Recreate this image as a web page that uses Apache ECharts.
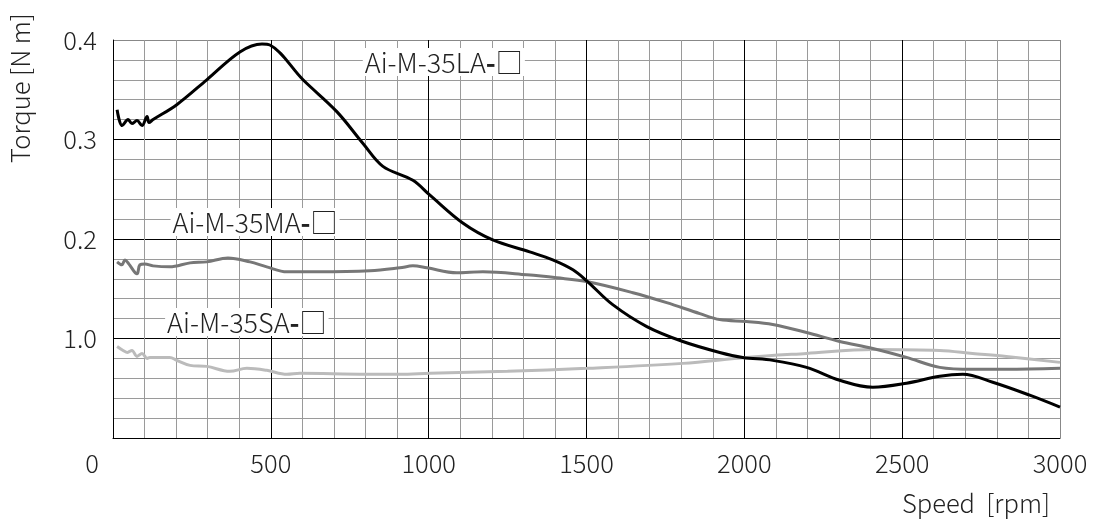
<!DOCTYPE html>
<html>
<head>
<meta charset="utf-8">
<script src="https://cdn.jsdelivr.net/npm/echarts@6/dist/echarts.min.js"></script>
<style>
  html, body { margin: 0; padding: 0; background: #fff; }
  #main { width: 1094px; height: 525px; }
</style>
</head>
<body>
<div id="main"></div>
<script>
// rpm, torque [N m]
const LA = [[13,0.330],[29,0.314],[48,0.320],[60,0.316],[76,0.319],[92,0.314],[108,0.323],[114,0.317],[127,0.320],
  [202,0.335],[297,0.360],[402,0.388],[472,0.396],[497,0.395],[602,0.360],[709,0.328],[792,0.296],[855,0.273],
  [950,0.259],[1004,0.244],[1108,0.216],[1203,0.199],[1320,0.187],[1393,0.179],[1457,0.169],[1504,0.157],
  [1583,0.134],[1691,0.112],[1805,0.097],[1922,0.086],[1995,0.081],[2090,0.078],[2197,0.071],[2302,0.058],
  [2407,0.051],[2514,0.055],[2619,0.062],[2692,0.064],[2787,0.056],[2904,0.043],[3000,0.031]]
const MA = [[13,0.177],[28,0.174],[38,0.179],[50,0.175],[76,0.165],[85,0.174],[101,0.175],[127,0.173],[180,0.172],
  [244,0.176],[297,0.177],[364,0.181],[434,0.177],[487,0.172],[551,0.167],[646,0.167],[814,0.168],[909,0.171],
  [950,0.173],[994,0.171],[1089,0.166],[1172,0.167],[1311,0.164],[1406,0.161],[1504,0.157],[1647,0.146],
  [1754,0.136],[1859,0.125],[1922,0.119],[2007,0.117],[2090,0.114],[2197,0.106],[2302,0.097],[2407,0.090],
  [2514,0.081],[2619,0.071],[2723,0.069],[2830,0.069],[3000,0.070]]
const SA = [[13,0.092],[32,0.088],[46,0.086],[60,0.088],[76,0.082],[92,0.085],[108,0.080],[117,0.081],[180,0.081],
  [202,0.078],[244,0.073],[297,0.072],[370,0.067],[424,0.070],[487,0.068],[551,0.064],[592,0.065],[800,0.064],
  [909,0.064],[1004,0.065],[1250,0.067],[1501,0.070],[1805,0.075],[2007,0.081],[2197,0.085],[2407,0.089],
  [2619,0.088],[2723,0.085],[2830,0.082],[3000,0.076]]
const SERIES_NAMES = ['Ai-M-35LA', 'Ai-M-35MA', 'Ai-M-35SA']
const NAME_POS = [[1048, 0.378], [450, 0.217], [424, 0.1166]]
const X_TICKS = ['0', '500', '1000', '1500', '2000', '2500', '3000']
const Y_TICKS = ['', '1.0', '0.2', '0.3', '0.4']

const FONT = 'Noto Sans CJK JP'
const TXT = '#222'
var chart = echarts.init(document.getElementById('main'))

function nameMark(i) {
  return {
    symbol: 'rect',
    symbolSize: 1,
    itemStyle: { color: 'transparent' },
    label: {
      show: true,
      position: 'inside',
      formatter: SERIES_NAMES[i] + '{d|-}□',
      fontFamily: FONT,
      fontWeight: 300,
      fontSize: 27,
      color: TXT,
      backgroundColor: '#fff',
      padding: [1, 2, 0, 2],
      rich: { d: { fontFamily: FONT, fontWeight: 'bold', fontSize: 27, color: TXT } }
    },
    data: [{ coord: NAME_POS[i] }]
  }
}

function line(data, color, i, z) {
  return {
    type: 'line',
    data: data,
    showSymbol: false,
    smooth: 0.35,
    lineStyle: { color: color, width: 3 },
    z: z,
    markPoint: nameMark(i)
  }
}

var option = {
  animation: false,
  backgroundColor: '#fff',
  grid: { left: 113, right: 34, top: 40, bottom: 87 },
  xAxis: {
    type: 'value',
    min: 0, max: 3000, interval: 500,
    axisLine: { lineStyle: { color: '#000', width: 1 } },
    axisTick: { show: false },
    axisLabel: {
      margin: 13,
      fontFamily: FONT, fontWeight: 300, fontSize: 25.5, color: TXT,
      formatter: function (v) {
        var t = X_TICKS[Math.round(v / 500)]
        return v === 0 ? '{z|' + t + '}' : t
      },
      rich: { z: { fontFamily: FONT, fontWeight: 300, fontSize: 25.5, color: TXT, padding: [0, 42, 0, 0] } }
    },
    splitLine: { show: true, lineStyle: { color: ['#000', '#000', '#000', '#000', '#000', '#000', '#888'], width: 1 } },
    minorTick: { show: false, splitNumber: 5 },
    minorSplitLine: { show: true, lineStyle: { color: '#9a9a9a', width: 1 } }
  },
  yAxis: {
    type: 'value',
    min: 0, max: 0.4, interval: 0.1,
    axisLine: { show: true, lineStyle: { color: '#000', width: 1 } },
    axisTick: { show: false },
    axisLabel: {
      margin: 16,
      fontFamily: FONT, fontWeight: 300, fontSize: 25.5, color: TXT,
      formatter: function (v) { return Y_TICKS[Math.round(v * 10)] }
    },
    splitLine: { show: true, lineStyle: { color: ['#000', '#000', '#000', '#000', '#888'], width: 1 } },
    minorTick: { show: false, splitNumber: 5 },
    minorSplitLine: { show: true, lineStyle: { color: '#9a9a9a', width: 1 } }
  },
  graphic: [
    {
      type: 'text', right: 44, top: 491,
      style: { text: 'Speed  [rpm]', fontFamily: FONT, fontWeight: 300, fontSize: 25.5, fill: TXT }
    },
    {
      type: 'text', x: 20, y: 88, rotation: Math.PI / 2,
      style: { text: 'Torque [N m]', fontFamily: FONT, fontWeight: 300, fontSize: 25.5, fill: TXT, align: 'center', verticalAlign: 'middle' }
    }
  ],
  series: [
    line(SA, '#bbbbbb', 2, 3),
    line(MA, '#777777', 1, 4),
    line(LA, '#000000', 0, 5)
  ]
}
chart.setOption(option)
</script>
</body>
</html>
